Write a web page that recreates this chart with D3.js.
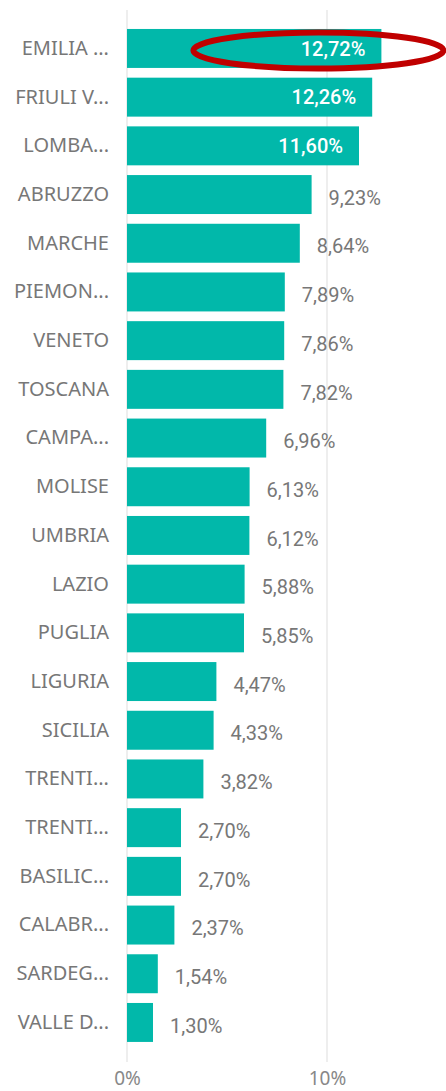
<!DOCTYPE html>
<html><head><meta charset="utf-8">
<script src="https://cdn.jsdelivr.net/npm/d3@7"></script>
<style>body{margin:0;background:#fff;}svg{display:block;}</style>
</head><body>
<script>
const categories = ["EMILIA ...","FRIULI V...","LOMBA...","ABRUZZO","MARCHE","PIEMON...","VENETO","TOSCANA","CAMPA...","MOLISE","UMBRIA","LAZIO","PUGLIA","LIGURIA","SICILIA","TRENTI...","TRENTI...","BASILIC...","CALABR...","SARDEG...","VALLE D..."];
const values = [12.72,12.26,11.60,9.23,8.64,7.89,7.86,7.82,6.96,6.13,6.12,5.88,5.85,4.47,4.33,3.82,2.70,2.70,2.37,1.54,1.30];
const ticks = [0,10];
const highlightIndex = 0;

const W = 446, H = 1091;
const svg = d3.select("body").append("svg").attr("width", W).attr("height", H);

const x = d3.scaleLinear().domain([0,10]).range([127,327]);
const y = d3.scaleBand().domain(d3.range(categories.length)).range([24.1,1046.8]).paddingInner(0.2).paddingOuter(0.1);
const fmt = v => v.toFixed(2).replace(".", ",") + "%";

// gridlines
svg.append("g").selectAll("line").data(ticks).join("line")
  .attr("x1", d => x(d)).attr("x2", d => x(d))
  .attr("y1", 10).attr("y2", 1062)
  .attr("stroke", "#e8e8e8").attr("stroke-width", 1.5);

// x axis labels
const xAxis = d3.axisBottom(x).tickValues(ticks).tickFormat(d => d + "%").tickSize(0).tickPadding(0);
const gx = svg.append("g").attr("transform", "translate(0,1085)").call(xAxis);
gx.select(".domain").remove();
gx.selectAll("text").attr("font-family", "'Noto Sans', sans-serif").attr("font-size", 19).attr("fill", "#888").attr("dy", "0");

// y axis labels
const yAxis = d3.axisLeft(y).tickFormat(i => categories[i]).tickSize(0).tickPadding(0);
const gy = svg.append("g").attr("transform", "translate(109,0)").call(yAxis);
gy.select(".domain").remove();
gy.selectAll("text").attr("font-family", "'Noto Sans', sans-serif").attr("font-size", 20).attr("fill", "#777");

// bars
svg.append("g").selectAll("rect").data(values).join("rect")
  .attr("x", x(0)).attr("y", (d,i) => y(i))
  .attr("width", d => x(d) - x(0)).attr("height", y.bandwidth())
  .attr("fill", "#01B8AA");

// value labels
const inside = d => x(d) + 95 > W;
svg.append("g").selectAll("text").data(values).join("text")
  .attr("x", d => inside(d) ? x(d) - 16 : x(d) + 17)
  .attr("y", (d,i) => y(i) + y.bandwidth()/2 + (inside(d) ? 0 : 3))
  .attr("dy", "0.36em")
  .attr("text-anchor", d => inside(d) ? "end" : "start")
  .attr("font-family", "Roboto, sans-serif").attr("font-size", 20)
  .attr("font-weight", d => inside(d) ? 500 : 400)
  .attr("fill", d => inside(d) ? "#fff" : "#777")
  .text(fmt);

// highlight ellipse
const hv = values[highlightIndex];
svg.append("ellipse")
  .attr("cx", x(hv) - 63).attr("cy", y(highlightIndex) + y.bandwidth()/2 + 2)
  .attr("rx", 125).attr("ry", 18)
  .attr("fill", "none").attr("stroke", "#C00000").attr("stroke-width", 6);
</script>
</body></html>
